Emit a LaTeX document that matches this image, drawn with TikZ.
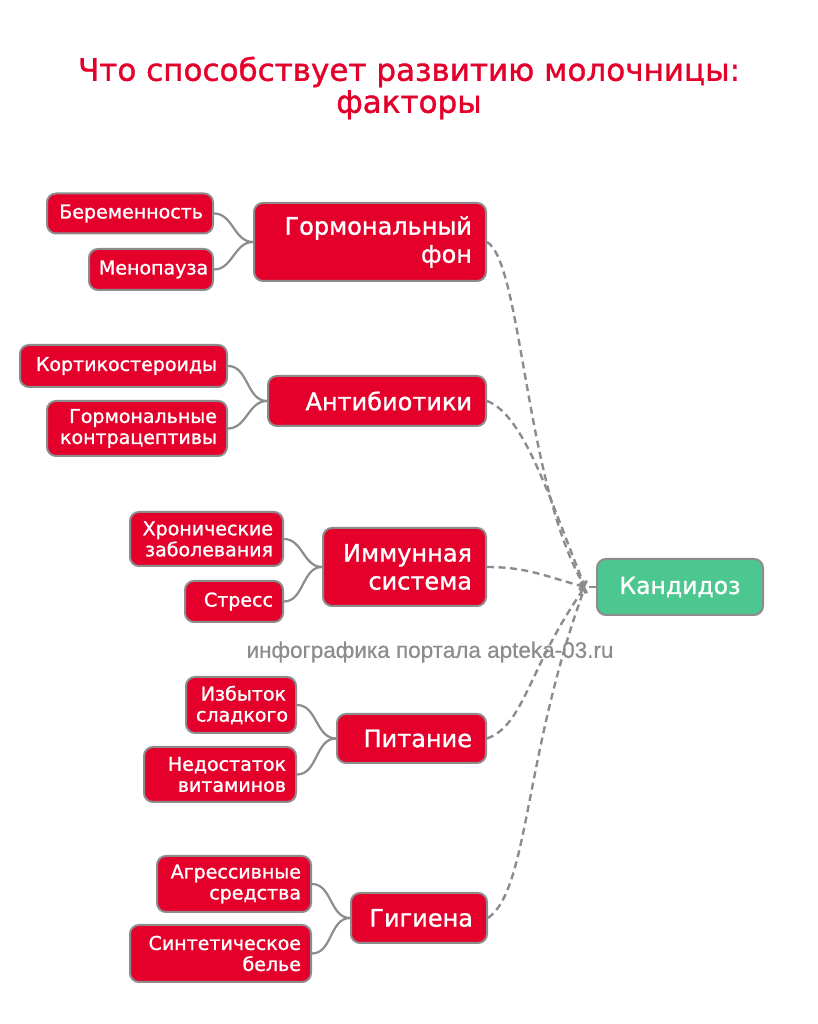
\documentclass[tikz,border=0pt]{standalone}
\usepackage{fontspec}
\usepackage{xcolor}
\usetikzlibrary{arrows.meta}
\newfontfamily\boxfont[FakeBold=1.2]{DejaVu Sans}
\newfontfamily\markfont[FakeBold=0.6]{Liberation Sans}
\definecolor{boxred}{HTML}{E4002B}
\definecolor{kgreen}{HTML}{4CC790}
\definecolor{edgegray}{HTML}{8C8C8C}

\begin{document}
\begin{tikzpicture}[x=1pt,y=1pt,
    leaf/.style={draw=edgegray, line width=2pt, fill=boxred, rounded corners=9pt,
      text=white, font=\boxfont\fontsize{19}{21}\selectfont, align=right,
      inner xsep=10pt, inner ysep=0pt, anchor=east},
    factor/.style={leaf, font=\boxfont\fontsize{24}{28}\selectfont, inner xsep=14pt},
    target/.style={leaf, fill=kgreen, align=center, anchor=center,
      font=\boxfont\fontsize{23.5}{26}\selectfont},
    twig/.style={draw=edgegray, line width=2.2pt},
    dashlink/.style={draw=edgegray, line width=2.4pt, dash pattern=on 7pt off 4.5pt,
      -{Straight Barb[length=3.5pt,width=8pt]}}]
    \useasboundingbox (0,0) rectangle (818,1024);

    % Title
    \node[text=boxred, align=center, font=\boxfont\fontsize{31}{32}\selectfont] (title) at (409,936)
      {Что способствует развитию молочницы:\\факторы};

    % Factors
    \node[factor, minimum width=232pt, minimum height=78pt, text width=204pt] (horm) at (487,782) {Гормональный\\фон};
    \node[factor, minimum width=218pt, minimum height=50pt, text width=190pt] (anti) at (487,623) {Антибиотики};
    \node[factor, minimum width=163pt, minimum height=78pt, text width=135pt] (immun) at (487,457) {Иммунная\\система};
    \node[factor, minimum width=149pt, minimum height=49pt, text width=121pt] (pit) at (487,285.5) {Питание};
    \node[factor, minimum width=136pt, minimum height=50pt, text width=108pt] (gig) at (488,106) {Гигиена};

    % Causes
    \node[leaf, minimum width=166pt, minimum height=40pt, text width=146pt] (ber) at (214,810.5) {Беременность};
    \node[leaf, minimum width=124pt, minimum height=41pt, text width=104pt] (meno) at (214,754.5) {Менопауза};
    \node[leaf, minimum width=207pt, minimum height=42pt, text width=187pt] (kort) at (228,658) {Кортикостероиды};
    \node[leaf, minimum width=180pt, minimum height=55pt, text width=160pt] (kontr) at (228,595.5) {Гормональные\\контрацептивы};
    \node[leaf, minimum width=153pt, minimum height=54pt, text width=133pt] (hron) at (284,485) {Хронические\\заболевания};
    \node[leaf, minimum width=98pt, minimum height=41pt, text width=78pt] (stress) at (284,422.5) {Стресс};
    \node[leaf, minimum width=110pt, minimum height=56pt, text width=90pt] (izb) at (297,319) {Избыток\\сладкого};
    \node[leaf, minimum width=152pt, minimum height=55pt, text width=132pt] (nedo) at (297,249.5) {Недостаток\\витаминов};
    \node[leaf, minimum width=154pt, minimum height=56pt, text width=134pt] (agr) at (312,140) {Агрессивные\\средства};
    \node[leaf, minimum width=181pt, minimum height=57pt, text width=161pt] (sint) at (312,70.5) {Синтетическое\\белье};

    % Result
    \node[target, minimum width=166pt, minimum height=56pt] (kand) at (680,437) {Кандидоз};
    \coordinate (hub) at (585,437);
    \coordinate (stub) at (589,437);

    % Watermark
    \node[text=edgegray, font=\markfont\fontsize{22.5}{24}\selectfont] (mark) at (430,372)
      {инфографика портала apteka-03.ru};

    % Causes to factors
    \draw[twig] (ber.east) to[out=0,in=180] (horm.west);
    \draw[twig] (meno.east) to[out=0,in=180] (horm.west);
    \draw[twig] (kort.east) to[out=0,in=180] (anti.west);
    \draw[twig] (kontr.east) to[out=0,in=180] (anti.west);
    \draw[twig] (hron.east) to[out=0,in=180] (immun.west);
    \draw[twig] (stress.east) to[out=0,in=180] (immun.west);
    \draw[twig] (izb.east) to[out=0,in=180] (pit.west);
    \draw[twig] (nedo.east) to[out=0,in=180] (pit.west);
    \draw[twig] (agr.east) to[out=0,in=180] (gig.west);
    \draw[twig] (sint.east) to[out=0,in=180] (gig.west);

    % Factors to result
    \draw[dashlink] (horm.east) .. controls +(-30:40) and +(120:120) .. (hub);
    \draw[dashlink] (anti.east) .. controls +(-20:40) and +(112:90) .. (hub);
    \draw[dashlink] (immun.east) .. controls +(0:40) and +(165:40) .. (hub);
    \draw[dashlink] (pit.east) .. controls +(20:40) and +(-125:100) .. (hub);
    \draw[dashlink] (gig.east) .. controls +(35:50) and +(-110:180) .. (hub);
    \draw[twig] (stub) -- (kand.west);
  \end{tikzpicture}
\end{document}
